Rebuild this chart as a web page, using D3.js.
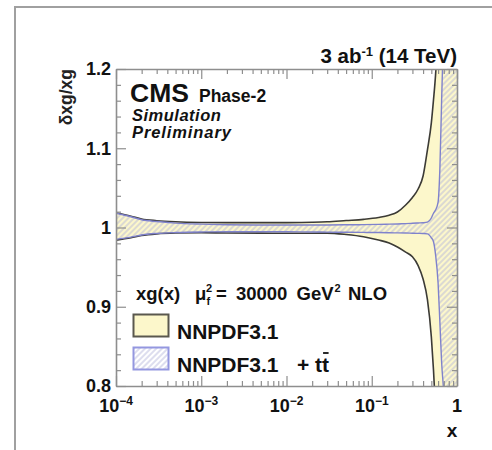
<!DOCTYPE html>
<html><head><meta charset="utf-8">
<script src="https://cdn.jsdelivr.net/npm/d3@7"></script>
<style>
html,body{margin:0;padding:0;background:#fff;}
svg{display:block;font-family:"Liberation Sans",Arial,Helvetica,sans-serif;}
</style></head><body>
<svg id="chart" width="492" height="450"></svg>
<script>
// Relative gluon uncertainty, xg(x) at mu_f^2 = 30000 GeV^2 (NLO)
const xGrid = [1e-4, 1.5e-4, 2e-4, 3e-4, 5e-4, 1e-3, 2e-3, 5e-3, 1e-2, 2e-2, 3e-2, 5e-2, 8e-2,
               0.12, 0.16, 0.2, 0.25, 0.3, 0.35, 0.4, 0.45, 0.5, 0.53, 0.56, 0.6, 0.63, 0.66, 0.7, 0.8, 1.0];
// NNPDF3.1 band
const nnpdfUp = [1.0187, 1.0143, 1.0107, 1.0086, 1.0072, 1.0064, 1.0062, 1.0061, 1.0062, 1.0066, 1.0072, 1.0088, 1.0103,
                 1.0126, 1.0155, 1.0196, 1.0284, 1.0379, 1.0486, 1.065, 1.098, 1.132, 1.161, 1.192, 1.25, 1.3, 1.4, 1.5, 1.8, 2.5];
const nnpdfLo = [0.984, 0.9871, 0.9899, 0.992, 0.993, 0.9933, 0.9931, 0.9929, 0.9928, 0.9928, 0.9929, 0.9912, 0.9884,
                 0.9842, 0.9804, 0.9754, 0.969, 0.963, 0.952, 0.935, 0.909, 0.862, 0.82, 0.77, 0.7, 0.65, 0.6, 0.5, 0.3, 0.0];
// NNPDF3.1 + ttbar band
const ttbarUp = [1.018, 1.0135, 1.0098, 1.0075, 1.0055, 1.0042, 1.0035, 1.0032, 1.0031, 1.0031, 1.0032, 1.0034, 1.0036,
                 1.0039, 1.0042, 1.0045, 1.0049, 1.0053, 1.0057, 1.006, 1.0068, 1.012, 1.018, 1.022, 1.032, 1.075, 1.16, 1.26, 1.5, 2.0];
const ttbarLo = [0.985, 0.9878, 0.9905, 0.9925, 0.9937, 0.9944, 0.9946, 0.9947, 0.9946, 0.9944, 0.9942, 0.994, 0.9938,
                 0.9936, 0.9934, 0.9932, 0.993, 0.9928, 0.9926, 0.9924, 0.992, 0.987, 0.982, 0.966, 0.93, 0.88, 0.83, 0.79, 0.6, 0.3];

const yTickValues = [0.8, 0.9, 1.0, 1.1, 1.2];
const yTickLabels = ["0.8", "0.9", "1", "1.1", "1.2"];
const xTickValues = [1e-4, 1e-3, 1e-2, 1e-1, 1];
const xTickBase = ["10", "10", "10", "10", "1"];
const xTickExp = ["\u22124", "\u22123", "\u22122", "\u22121", ""];
const legendLabels = ["NNPDF3.1", "NNPDF3.1"];

const L = 116, R = 457, T = 69, B = 386;
const svg = d3.select("#chart");
const x = d3.scaleLog().domain([1e-4, 1]).range([L, R]);
const y = d3.scaleLinear().domain([0.8, 1.2]).range([B, T]);

const AXIS = "#8e8e8e";
const YELLOW = "#fcf7cb";
const DARK = "#3c3b36";
const BLUE = "#7f82cc";
const INK = "#111";

// outer figure frame
svg.append("rect").attr("x", 15).attr("y", 7).attr("width", 700).attr("height", 700)
  .attr("fill", "none").attr("stroke", "#a0a0a0").attr("stroke-width", 2);

const defs = svg.append("defs");
defs.append("clipPath").attr("id", "plotClip")
  .append("rect").attr("x", L).attr("y", T).attr("width", R - L).attr("height", B - T);
const pat = defs.append("pattern").attr("id", "hatch")
  .attr("patternUnits", "userSpaceOnUse").attr("width", 4).attr("height", 4)
  .attr("patternTransform", "rotate(45)");
pat.append("line").attr("x1", 1).attr("y1", 0).attr("x2", 1).attr("y2", 4)
  .attr("stroke", "#b3b4da").attr("stroke-width", 0.9);

const nnpdf = xGrid.map((v, i) => ({x: v, lo: nnpdfLo[i], hi: nnpdfUp[i]}));
const ttbar = xGrid.map((v, i) => ({x: v, lo: ttbarLo[i], hi: ttbarUp[i]}));

const area = d3.area().x(d => x(d.x)).y0(d => y(d.lo)).y1(d => y(d.hi)).curve(d3.curveMonotoneX);
const lineHi = d3.line().x(d => x(d.x)).y(d => y(d.hi)).curve(d3.curveMonotoneX);
const lineLo = d3.line().x(d => x(d.x)).y(d => y(d.lo)).curve(d3.curveMonotoneX);

const plot = svg.append("g").attr("clip-path", "url(#plotClip)");
plot.append("path").datum(nnpdf).attr("d", area).attr("fill", YELLOW);
plot.append("path").datum(ttbar).attr("d", area).attr("fill", "url(#hatch)");
[lineHi, lineLo].forEach(fn => {
  plot.append("path").datum(nnpdf).attr("d", fn).attr("fill", "none")
    .attr("stroke", DARK).attr("stroke-width", 1.6);
});
[lineHi, lineLo].forEach(fn => {
  plot.append("path").datum(ttbar).attr("d", fn).attr("fill", "none")
    .attr("stroke", BLUE).attr("stroke-width", 1.4);
});

// axes with inward ticks on all four sides
const xAll = [];
for (let e = -4; e < 0; e++) for (let m = 1; m < 10; m++) xAll.push(+(m * Math.pow(10, e)).toPrecision(6));
xAll.push(1);
const yAll = d3.range(0, 21).map(i => +(0.8 + i * 0.02).toFixed(2));
const isMajorX = d => Math.abs(Math.log10(d) - Math.round(Math.log10(d))) < 1e-9;
const isMajorY = d => Math.abs(d * 10 - Math.round(d * 10)) < 1e-6;

function styleAxis(g, isMajor, attr, sign) {
  g.select(".domain").attr("stroke", AXIS).attr("stroke-width", 1.6);
  g.selectAll(".tick line").attr("stroke", AXIS).attr("stroke-width", 1.2)
    .attr(attr, d => sign * (isMajor(d) ? 10 : 5));
  g.selectAll(".tick text").remove();
}
const gB = svg.append("g").attr("transform", `translate(0,${B})`)
  .call(d3.axisBottom(x).tickValues(xAll).tickSizeInner(-5).tickSizeOuter(0).tickFormat(""));
styleAxis(gB, isMajorX, "y2", -1);
const gT = svg.append("g").attr("transform", `translate(0,${T})`)
  .call(d3.axisTop(x).tickValues(xAll).tickSizeInner(-5).tickSizeOuter(0).tickFormat(""));
styleAxis(gT, isMajorX, "y2", 1);
const gL = svg.append("g").attr("transform", `translate(${L},0)`)
  .call(d3.axisLeft(y).tickValues(yAll).tickSizeInner(-5).tickSizeOuter(0).tickFormat(""));
styleAxis(gL, isMajorY, "x2", 1);
const gR = svg.append("g").attr("transform", `translate(${R},0)`)
  .call(d3.axisRight(y).tickValues(yAll).tickSizeInner(-5).tickSizeOuter(0).tickFormat(""));
styleAxis(gR, isMajorY, "x2", -1);

// tick labels
svg.append("g").selectAll("text").data(yTickValues).join("text")
  .attr("x", 111).attr("y", d => y(d)).attr("dy", "0.36em")
  .attr("text-anchor", "end").attr("font-weight", "bold").attr("font-size", 18)
  .attr("fill", INK).text((d, i) => yTickLabels[i]);

const xl = svg.append("g").selectAll("text").data(xTickValues).join("text")
  .attr("x", d => x(d)).attr("y", 412).attr("text-anchor", "middle")
  .attr("font-weight", "bold").attr("fill", INK);
xl.append("tspan").attr("font-size", 18).text((d, i) => xTickBase[i]);
xl.append("tspan").attr("font-size", 12).attr("dy", -7).text((d, i) => xTickExp[i]);

// axis titles
svg.append("text").attr("x", 452).attr("y", 437).attr("text-anchor", "middle")
  .attr("font-weight", "bold").attr("font-size", 19).attr("fill", INK).text("x");
svg.append("text").attr("transform", "translate(72,69) rotate(-90)").attr("text-anchor", "end")
  .attr("font-weight", "bold").attr("font-size", 17.5).attr("fill", "#222").text("\u03b4xg/xg");

// luminosity label
const lumi = svg.append("text").attr("x", R).attr("y", 63).attr("text-anchor", "end")
  .attr("font-weight", "bold").attr("font-size", 20.5).attr("fill", INK);
lumi.append("tspan").text("3 ab");
lumi.append("tspan").attr("font-size", 13).attr("dy", -7).text("-1");
lumi.append("tspan").attr("dy", 7).text(" (14 TeV)");

// CMS label
svg.append("text").attr("x", 130).attr("y", 102).attr("font-weight", "bold")
  .attr("font-size", 26.5).attr("fill", INK).text("CMS");
svg.append("text").attr("x", 199).attr("y", 102).attr("font-weight", "bold")
  .attr("font-size", 17.5).attr("fill", INK).text("Phase-2");
svg.append("text").attr("x", 132).attr("y", 121).attr("font-weight", "bold").attr("font-style", "italic")
  .attr("font-size", 16.5).attr("letter-spacing", 0.5).attr("fill", INK).text("Simulation");
svg.append("text").attr("x", 132).attr("y", 138).attr("font-weight", "bold").attr("font-style", "italic")
  .attr("font-size", 16.5).attr("letter-spacing", 0.9).attr("fill", INK).text("Preliminary");

// legend header: xg(x)  mu_f^2 = 30000 GeV^2  NLO
const hdr = svg.append("g").attr("font-weight", "bold").attr("fill", INK);
const hy = 300;
hdr.append("text").attr("x", 136).attr("y", hy).attr("font-size", 18.5).text("xg(x)");
hdr.append("text").attr("x", 195).attr("y", hy).attr("font-size", 18.5).text("\u03bc");
hdr.append("text").attr("x", 206).attr("y", hy - 8).attr("font-size", 11).text("2");
hdr.append("text").attr("x", 206.5).attr("y", hy + 5).attr("font-size", 11).text("f");
const eq = hdr.append("text").attr("x", 216).attr("y", hy).attr("font-size", 18.5)
  .attr("word-spacing", 4).text("= 30000 GeV");
const eqEnd = 216 + eq.node().getComputedTextLength();
hdr.append("text").attr("x", eqEnd + 1).attr("y", hy - 8).attr("font-size", 11).text("2");
hdr.append("text").attr("x", 348).attr("y", hy).attr("font-size", 18.5).text("NLO");

// legend entries
svg.append("rect").attr("x", 133.5).attr("y", 314.5).attr("width", 35).attr("height", 22)
  .attr("fill", YELLOW).attr("stroke", "#5a584e").attr("stroke-width", 2);
svg.append("rect").attr("x", 133.5).attr("y", 347.5).attr("width", 35).attr("height", 22)
  .attr("fill", "#ffffff").attr("stroke", "none");
svg.append("rect").attr("x", 133.5).attr("y", 347.5).attr("width", 35).attr("height", 22)
  .attr("fill", "url(#hatch)").attr("stroke", "#9497e0").attr("stroke-width", 2);
svg.append("text").attr("x", 177).attr("y", 339).attr("font-weight", "bold").attr("font-size", 21)
  .attr("fill", INK).text(legendLabels[0]);
svg.append("text").attr("x", 177).attr("y", 372).attr("font-weight", "bold").attr("font-size", 21)
  .attr("fill", INK).text(legendLabels[1]);
const tt = svg.append("text").attr("x", 297).attr("y", 372).attr("font-weight", "bold").attr("font-size", 21)
  .attr("fill", INK).text("+ tt");
// bar over the second t
const ttLen = tt.node().getComputedTextLength();
const tW = tt.node().getSubStringLength(3, 1);
svg.append("line").attr("x1", 297 + ttLen - tW + 1).attr("x2", 297 + ttLen - 0.5)
  .attr("y1", 353).attr("y2", 353).attr("stroke", INK).attr("stroke-width", 1.8);
</script>
</body></html>
